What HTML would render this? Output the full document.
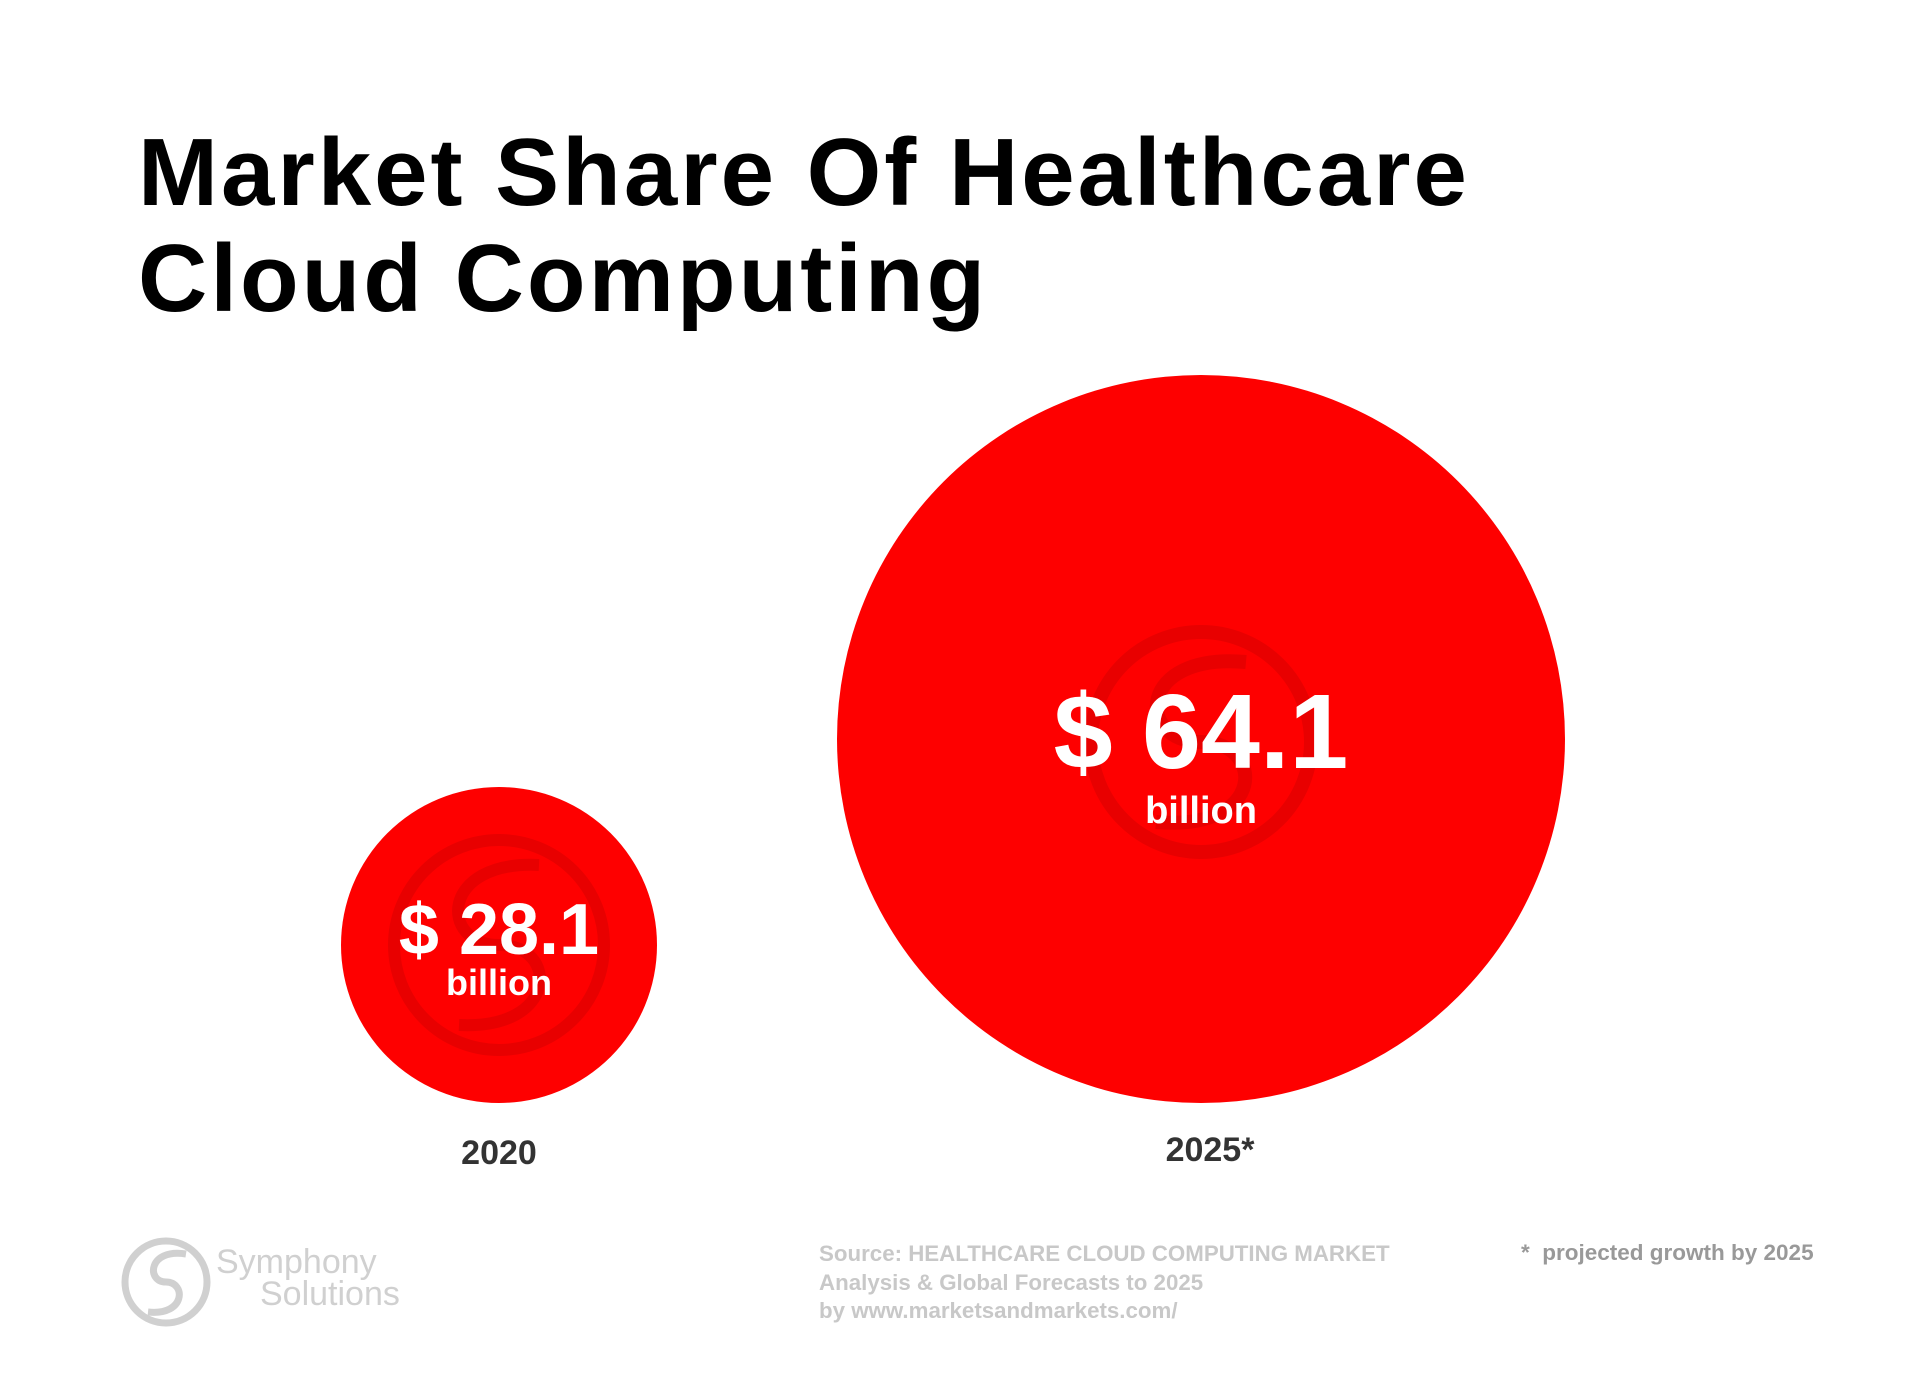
<!DOCTYPE html>
<html><head><meta charset="utf-8"><style>
body{margin:0;background:#fff;}
.c{position:relative;width:1918px;height:1387px;overflow:hidden;font-family:"Liberation Sans",sans-serif;}
.t{position:absolute;left:138px;top:120px;font-size:96px;font-weight:bold;line-height:106px;color:#000;letter-spacing:3px;}
.circ{position:absolute;border-radius:50%;background:#fe0000;}
.v{position:absolute;color:#fff;font-weight:bold;text-align:center;width:600px;}
.y{position:absolute;color:#333;font-weight:bold;font-size:34px;text-align:center;width:300px;}
.s{position:absolute;left:819px;top:1240px;color:#c8c8c8;font-weight:bold;font-size:22.3px;line-height:28.5px;}
.p{position:absolute;left:1521px;top:1240px;color:#999;font-weight:bold;font-size:22.5px;}
</style></head><body><div class="c">
<div class="t">Market Share Of Healthcare<br>Cloud Computing</div>
<div class="circ" style="left:837px;top:375px;width:728px;height:728px"></div>
<svg style="position:absolute;left:1076px;top:612px" width="250" height="260"><g fill="none" stroke="#e80000" stroke-width="14"><circle cx="125" cy="130" r="110"/><path d="M170 50 C60 40 60 130 125 130 C190 130 190 220 80 210"/></g></svg>
<div class="circ" style="left:341px;top:787px;width:316px;height:316px"></div>
<svg style="position:absolute;left:374px;top:820px" width="250" height="250"><g fill="none" stroke="#e80000" stroke-width="12"><circle cx="125" cy="125" r="105"/><path d="M165 45 C65 40 65 125 125 125 C185 125 185 210 85 205"/></g></svg>
<div class="v" style="left:901px;top:672px;font-size:106px;line-height:120px">$ 64.1</div>
<div class="v" style="left:901px;top:790px;font-size:38px">billion</div>
<div class="v" style="left:199px;top:888px;font-size:72px;line-height:84px">$ 28.1</div>
<div class="v" style="left:199px;top:962px;font-size:36px">billion</div>
<div class="y" style="left:349px;top:1134px">2020</div>
<div class="y" style="left:1060px;top:1131px">2025*</div>
<svg style="position:absolute;left:120px;top:1236px" width="95" height="95"><g fill="none" stroke="#d0d0d0" stroke-width="7"><circle cx="46" cy="46" r="41"/><path d="M66 18 C28 12 26 46 46 46 C66 46 66 80 28 76"/></g></svg>
<div style="position:absolute;left:216px;top:1246px;color:#d0d0d0;font-size:34px;line-height:32px">Symphony<br><span style="margin-left:44px">Solutions</span></div>
<div class="s">Source: HEALTHCARE CLOUD COMPUTING MARKET<br>Analysis &amp; Global Forecasts to 2025<br>by www.marketsandmarkets.com/</div>
<div class="p">*&nbsp; projected growth by 2025</div>
</div></body></html>
